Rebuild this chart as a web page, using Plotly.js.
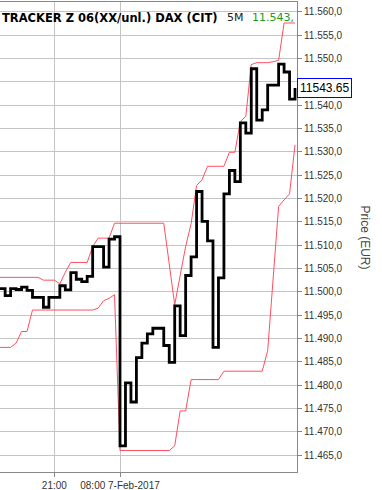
<!DOCTYPE html>
<html>
<head>
<meta charset="utf-8">
<script src="https://cdn.plot.ly/plotly-3.0.1.min.js"></script>
<style>html,body{margin:0;padding:0;background:#fff;}#chart{width:382px;height:490px;}</style>
</head>
<body>
<div id="chart"></div>
<script>
var times = ['20:10','20:15','20:20','20:25','20:30','20:35','20:40','20:45','20:50','20:55',
  '21:00','21:05','21:10','21:15','21:20','21:25','21:30','21:35','21:40','21:45','21:50','21:55',
  '08:00','08:05','08:10','08:15','08:20','08:25','08:30','08:35','08:40','08:45','08:50','08:55',
  '09:00','09:05','09:10','09:15','09:20','09:25','09:30','09:35','09:40','09:45','09:50','09:55',
  '10:00','10:05','10:10','10:15','10:20','10:25','10:30','10:35','10:40'];

var price = [11500.7,11499.2,11500.7,11500.5,11501.0,11500.3,11498.8,11498.8,11496.7,11498.8,
  11498.8,11501.3,11500.4,11504.1,11502.7,11502.2,11503.3,11509.7,11509.7,11505.3,11511.3,11511.8,
  11467.0,11480.5,11476.4,11485.9,11489.0,11491.0,11492.2,11492.2,11488.5,11484.9,11497.0,11490.6,
  11503.5,11507.5,11521.5,11515.1,11510.9,11488.1,11503.0,11521.0,11526.0,11523.6,11536.2,11534.0,
  11547.8,11536.8,11539.0,11544.3,11544.3,11548.8,11547.1,11541.3,11543.65];

var upperBand = [11503.1,11503.1,11503.1,11503.1,11503.1,11503.1,11503.1,11503.1,11502.5,11502.5,
  11502.5,11501.7,11504.2,11506.3,11506.3,11506.3,11506.3,11509.7,11511.5,11511.5,11511.5,11514.7,
  11514.7,11514.7,11514.7,11514.7,11514.7,11514.7,11514.7,11514.7,11514.7,11506.0,11497.2,11503.5,
  11509.7,11514.6,11522.8,11524.0,11526.9,11526.9,11526.9,11526.9,11529.9,11529.9,11536.5,11537.6,
  11548.7,11549.1,11549.1,11549.1,11549.3,11549.6,11557.6,11557.6,11557.6];

var lowerBand = [11488.1,11488.1,11488.1,11489.0,11491.5,11491.5,11496.1,11496.1,11496.1,11496.1,
  11496.1,11496.1,11496.1,11496.1,11496.1,11496.1,11496.1,11496.1,11496.5,11498.1,11498.6,11499.4,
  11466.0,11466.0,11466.0,11466.0,11466.0,11466.0,11466.0,11466.0,11466.0,11466.0,11467.0,11474.5,
  11474.5,11481.2,11481.2,11481.2,11481.2,11481.2,11481.2,11483.0,11483.0,11483.0,11483.0,11483.0,
  11483.0,11483.0,11483.0,11487.4,11502.8,11518.3,11519.7,11521.0,11531.5];

var xTickVals = ['21:00','08:00'];
var xTickText = ['21:00','08:00 7-Feb-2017'];
// y tick labels shown (the 11.545 label is hidden behind the last-price box)
var yTickLabelVals = [11465,11470,11475,11480,11485,11490,11495,11500,11505,11510,
  11515,11520,11525,11530,11535,11540,11550,11555,11560];
var yGridVals = [11465,11470,11475,11480,11485,11490,11495,11500,11505,11510,
  11515,11520,11525,11530,11535,11540,11545,11550,11555,11560];
var lastPriceLabel = '11543.65';
var titleMain = 'TRACKER Z 06(XX/unl.) DAX (CIT)';
var titleInterval = '5M';
var titleLast = '11.543,';

var bandColor = '#ff4f5f';
var traces = [
  {x: times, y: upperBand, type: 'scatter', mode: 'lines', line: {color: bandColor, width: 1}, hoverinfo: 'skip'},
  {x: times, y: lowerBand, type: 'scatter', mode: 'lines', line: {color: bandColor, width: 1}, hoverinfo: 'skip'},
  {x: times, y: price, type: 'scatter', mode: 'lines', line: {color: '#000000', width: 2.8, shape: 'hv'}, hoverinfo: 'skip'},
  // invisible trace carrying the full tick set (with grid) on a second y axis
  {x: [times[0]], y: [yGridVals[0]], yaxis: 'y2', type: 'scatter', mode: 'markers', marker: {opacity: 0}, hoverinfo: 'skip'}
];

var W = 297; // plot width in px
function px(x){ return x / W; }

var layout = {
  width: 382, height: 490,
  margin: {l: 0, r: 85, t: 2, b: 18, pad: 0},
  paper_bgcolor: '#ffffff', plot_bgcolor: '#ffffff',
  showlegend: false,
  separators: ',.',
  font: {family: 'Liberation Sans, Arial, sans-serif', size: 10, color: '#333333'},
  xaxis: {
    type: 'category', categoryorder: 'trace',
    range: [0.06, 54.36],
    tickmode: 'array', tickvals: xTickVals, ticktext: xTickText,
    showgrid: true, gridcolor: '#c4c4c4', gridwidth: 1,
    showline: true, linecolor: '#888888', linewidth: 1, mirror: true,
    ticks: 'outside', ticklen: 4, tickcolor: '#888888',
    tickfont: {family: 'Liberation Sans, Arial, sans-serif', size: 10, color: '#333333'},
    zeroline: false, fixedrange: true
  },
  yaxis: {
    side: 'right',
    range: [11461.4, 11562.1],
    tickmode: 'array', tickvals: yTickLabelVals,
    tickformat: ',.1f',
    showgrid: false,
    showline: true, linecolor: '#888888', linewidth: 1,
    ticks: 'outside', ticklen: 4, tickcolor: '#888888',
    tickfont: {family: 'Liberation Sans, Arial, sans-serif', size: 10, color: '#333333'},
    zeroline: false, fixedrange: true
  },
  yaxis2: {
    overlaying: 'y', side: 'right', matches: 'y',
    range: [11461.4, 11562.1],
    tickmode: 'array', tickvals: yGridVals,
    showticklabels: false, ticks: '',
    showgrid: true, gridcolor: '#c4c4c4', gridwidth: 1,
    showline: false, zeroline: false, fixedrange: true
  },
  annotations: [
    {xref: 'paper', yref: 'paper', x: px(0), y: 0.966, xanchor: 'left', yanchor: 'middle', showarrow: false,
     text: '<b>' + titleMain + '</b>', font: {family: 'DejaVu Sans, sans-serif', size: 11.5, color: '#000000'}},
    {xref: 'paper', yref: 'paper', x: px(225), y: 0.966, xanchor: 'left', yanchor: 'middle', showarrow: false,
     text: titleInterval, font: {family: 'DejaVu Sans, sans-serif', size: 11, color: '#222222'}},
    {xref: 'paper', yref: 'paper', x: px(250), y: 0.966, xanchor: 'left', yanchor: 'middle', showarrow: false,
     text: titleLast, font: {family: 'DejaVu Sans, sans-serif', size: 11, color: '#1a9a1a'}},
    {xref: 'paper', yref: 'y', x: 1, y: price[price.length - 1], xanchor: 'left', yanchor: 'middle', showarrow: false,
     text: lastPriceLabel, bgcolor: '#ffffff', bordercolor: '#0000ff', borderwidth: 1, borderpad: 2,
     font: {family: 'Liberation Sans, Arial, sans-serif', size: 12, color: '#000000'}},
    {xref: 'paper', yref: 'paper', x: px(365), y: (472 - 237.5) / 470, xanchor: 'center', yanchor: 'middle', showarrow: false,
     text: 'Price (EUR)', textangle: 90, font: {family: 'Liberation Sans, Arial, sans-serif', size: 12, color: '#444444'}}
  ]
};

Plotly.newPlot('chart', traces, layout, {displayModeBar: false, staticPlot: true});
</script>
</body>
</html>
